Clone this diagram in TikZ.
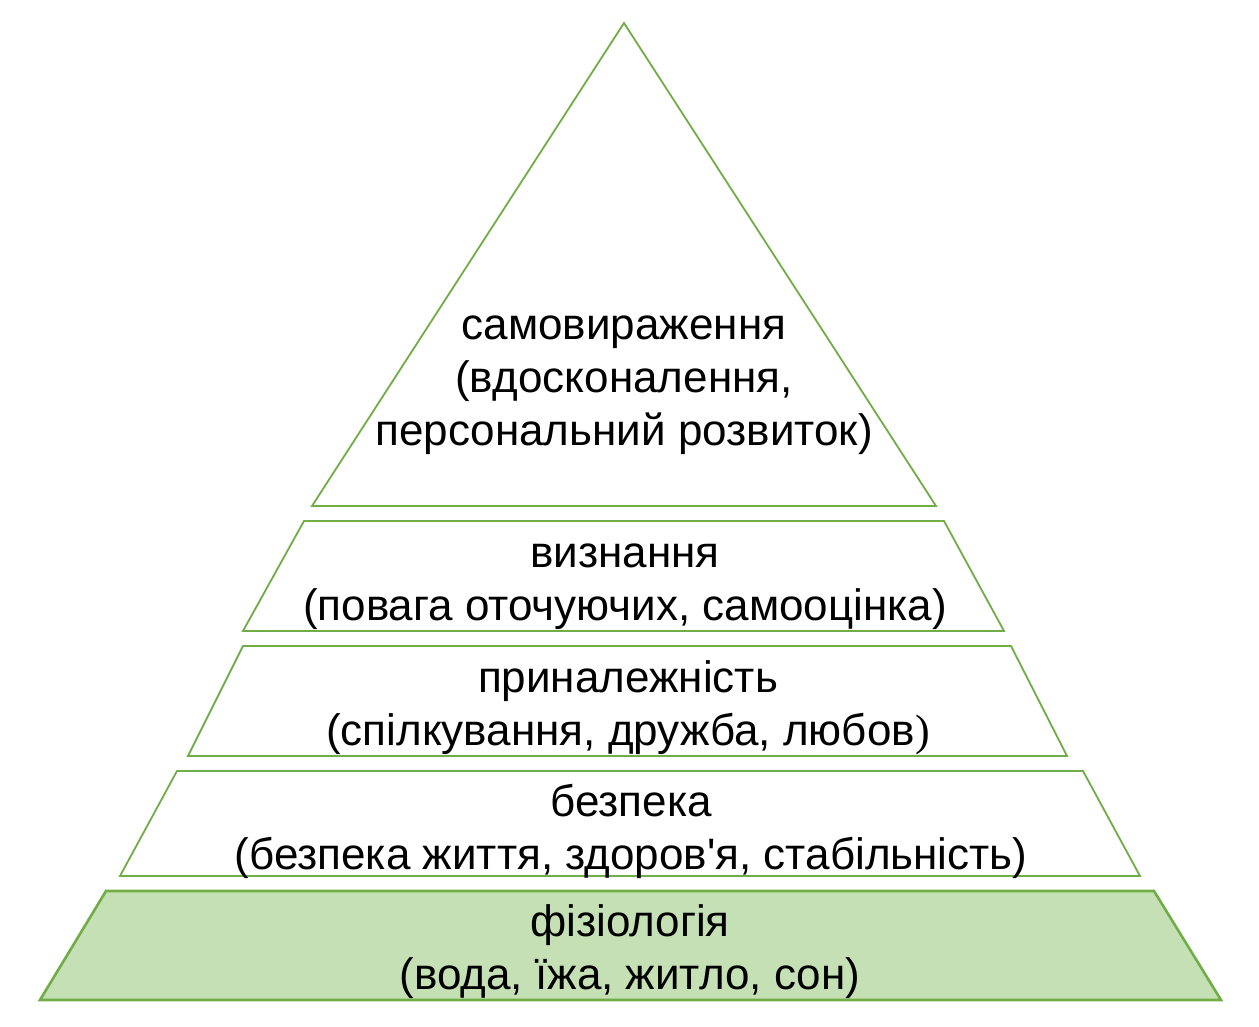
\documentclass[tikz,border=0pt]{standalone}
\usepackage{fontspec}
\newfontfamily\lsans{Liberation Sans}
\newfontfamily\lserif{Liberation Serif}
\definecolor{tiergreen}{HTML}{70AD47}
\definecolor{tierfill}{HTML}{C5E0B4}
\begin{document}
\begin{tikzpicture}[x=1pt,y=-1pt,
  tier/.style={draw=tiergreen,line width=1.8pt,line join=miter},
  basetier/.style={tier,fill=tierfill,line width=2.6pt},
  lbl/.style={anchor=base,inner sep=0pt,font=\lsans\fontsize{44}{53}\selectfont,text=black}]
\useasboundingbox (0,0) rectangle (1259,1027);
% tier 1 (triangle)
\draw[tier] (624,23) -- (936,506) -- (312,506) -- cycle;
% tier 2
\draw[tier] (304,521) -- (944,521) -- (1004,631) -- (243,631) -- cycle;
% tier 3
\draw[tier] (243,646) -- (1011,646) -- (1067,756) -- (188,756) -- cycle;
% tier 4
\draw[tier] (177,771) -- (1083,771) -- (1140,876) -- (120,876) -- cycle;
% tier 5
\draw[basetier] (106,891) -- (1154,891) -- (1221,1000) -- (40,1000) -- cycle;
% labels
\node[lbl] (t1a) at (624,339) {самовираження};
\node[lbl] (t1b) at (624,392) {(вдосконалення,};
\node[lbl] (t1c) at (624,445) {персональний розвиток)};
\node[lbl] (t2a) at (625,567) {визнання};
\node[lbl] (t2b) at (625,620) {(повага оточуючих, самооцінка)};
\node[lbl] (t3a) at (628,692) {приналежність};
\node[lbl] (t3b) at (628,745) {(спілкування, дружба, любов{\lserif)}};
\node[lbl] (t4a) at (631,816) {безпека};
\node[lbl] (t4b) at (631,869) {(безпека життя, здоров'я, стабільність)};
\node[lbl] (t5a) at (630,936) {фізіологія};
\node[lbl] (t5b) at (630,989) {(вода, їжа, житло, сон)};
\end{tikzpicture}
\end{document}
